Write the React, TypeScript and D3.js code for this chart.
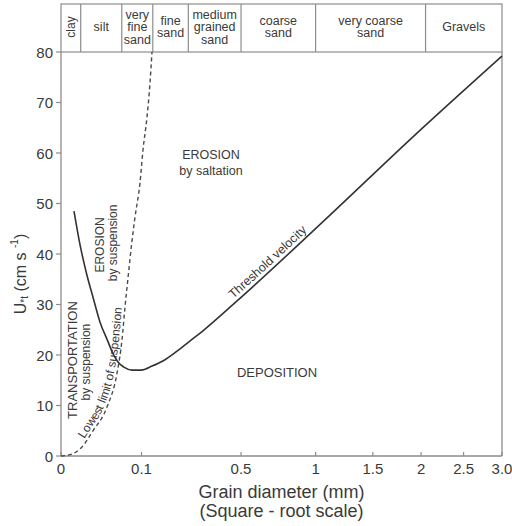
import * as d3 from 'd3';

// grain-size classes shown in the band above the plot (edges in mm)
const classEdges = [0, 0.006, 0.057, 0.13, 0.25, 0.5, 1, 2.05, 3];
const classNames = [
  ['clay'],
  ['silt'],
  ['very', 'fine', 'sand'],
  ['fine', 'sand'],
  ['medium', 'grained', 'sand'],
  ['coarse', 'sand'],
  ['very coarse', 'sand'],
  ['Gravels'],
];

const xTicks = [0, 0.1, 0.5, 1, 1.5, 2, 2.5, 3];
const xTickLabels = ['0', '0.1', '0.5', '1', '1.5', '2', '2.5', '3.0'];
const yTicks = [0, 10, 20, 30, 40, 50, 60, 70, 80];

// threshold velocity curve (grain diameter mm, U*t cm/s)
const thresholdD = [0.0026, 0.0056, 0.0104, 0.016, 0.0235, 0.033, 0.042, 0.05, 0.061, 0.078, 0.099, 0.128, 0.16, 0.204, 0.257, 0.311, 0.478, 1.116, 1.911, 3.0];
const thresholdU = [48.5, 41.8, 35.8, 31.3, 26.5, 23.0, 20.2, 18.6, 17.6, 17.0, 17.0, 17.8, 18.8, 20.6, 22.8, 24.8, 30.7, 47.7, 63.2, 79.2];

// lowest limit of suspension (dashed)
const suspD = [0, 0.0019, 0.0068, 0.0158, 0.0327, 0.0484, 0.0574, 0.0632, 0.0703, 0.0767, 0.0845, 0.0963, 0.1037, 0.1141, 0.1222, 0.1277];
const suspU = [0, 0.4, 1.8, 5.0, 9.7, 16.4, 23.0, 29.5, 36.2, 41.8, 47.3, 54.1, 60.6, 67.1, 73.9, 80.0];

const FONT = '"Liberation Sans", Arial, Helvetica, sans-serif';
const TEXT = '#3a3a3a';
const FRAME = '#8c8c8c';

export default function App() {
  const width = 512;
  const height = 526;
  const left = 61, right = 502, top = 52, bottom = 456, bandTop = 4;

  const x = d3.scaleSqrt().domain([0, 3]).range([left, right]);
  const y = d3.scaleLinear().domain([0, 80]).range([bottom, top]);

  const line = d3
    .line<[number, number]>()
    .x((d) => x(d[0]))
    .y((d) => y(d[1]))
    .curve(d3.curveMonotoneX);

  const threshold = line(d3.zip(thresholdD, thresholdU) as [number, number][]) || '';
  const susp = line(d3.zip(suspD, suspU) as [number, number][]) || '';

  const bandMid = 27;
  const lh = 12.5;

  return (
    <svg
      width={width}
      height={height}
      style={{ position: 'absolute', left: 0, top: 0, background: '#fff' }}
      fontFamily={FONT}
    >
      <defs>
        <path id="threshPath" d={threshold} />
        <path id="suspPath" d={susp} />
      </defs>

      {/* band of grain classes */}
      <rect x={left} y={bandTop} width={right - left} height={top - bandTop} fill="none" stroke={FRAME} strokeWidth={1.2} />
      {classEdges.slice(1, -1).map((e) => (
        <line key={e} x1={x(e)} x2={x(e)} y1={bandTop} y2={top} stroke={FRAME} strokeWidth={1.2} />
      ))}
      {classNames.map((lines, i) => {
        const cx = (x(classEdges[i]) + x(classEdges[i + 1])) / 2;
        if (lines[0] === 'clay') {
          return (
            <text key={i} transform={`translate(${cx},${bandMid}) rotate(-90)`} textAnchor="middle" dominantBaseline="central" fontSize={12} fill={TEXT}>
              clay
            </text>
          );
        }
        return (
          <text key={i} textAnchor="middle" fontSize={12.5} fill={TEXT}>
            {lines.map((t, j) => (
              <tspan key={j} x={cx} y={bandMid + (j - (lines.length - 1) / 2) * lh} dominantBaseline="central">
                {t}
              </tspan>
            ))}
          </text>
        );
      })}

      {/* frame */}
      <line x1={left} x2={left} y1={top} y2={bottom} stroke={FRAME} strokeWidth={1.3} />
      <line x1={right} x2={right} y1={top} y2={bottom} stroke={FRAME} strokeWidth={1.3} />
      <line x1={left} x2={right} y1={bottom} y2={bottom} stroke={FRAME} strokeWidth={1.3} />

      {/* y axis */}
      {yTicks.map((t) => (
        <g key={t}>
          <line x1={left - 5} x2={left} y1={y(t)} y2={y(t)} stroke={FRAME} strokeWidth={1.2} />
          <text x={left - 8} y={y(t)} textAnchor="end" dominantBaseline="central" fontSize={15} fill={TEXT}>
            {t}
          </text>
        </g>
      ))}
      <text transform={`translate(20,${274}) rotate(-90)`} textAnchor="middle" dominantBaseline="central" fontSize={16} fill={TEXT}>
        <tspan>U</tspan>
        <tspan dy={4} fontSize={10}>*t</tspan>
        <tspan dy={-4}> (cm s </tspan>
        <tspan dy={-6} fontSize={10}>-1</tspan>
        <tspan dy={6}>)</tspan>
      </text>

      {/* x axis */}
      {xTicks.map((t, i) => (
        <g key={t}>
          <line x1={x(t)} x2={x(t)} y1={bottom} y2={bottom - 4} stroke={FRAME} strokeWidth={1.2} />
          <text x={x(t)} y={bottom + 18} textAnchor="middle" fontSize={15} fill={TEXT}>
            {xTickLabels[i]}
          </text>
        </g>
      ))}
      <text x={(left + right) / 2} y={498} textAnchor="middle" fontSize={18} fill={TEXT}>
        Grain diameter (mm)
      </text>
      <text x={(left + right) / 2} y={517} textAnchor="middle" fontSize={18} fill={TEXT}>
        (Square - root scale)
      </text>

      {/* curves */}
      <path d={susp} fill="none" stroke="#4a4a4a" strokeWidth={1.4} strokeDasharray="4,3" />
      <path d={threshold} fill="none" stroke="#333" strokeWidth={1.6} />

      {/* curve labels */}
      <text fontSize={12.5} fill={TEXT} dy={-4}>
        <textPath href="#threshPath" startOffset="53%" textAnchor="middle">
          Threshold velocity
        </textPath>
      </text>
      <text fontSize={12} fill={TEXT} dy={-3}>
        <textPath href="#suspPath" startOffset="23.7%" textAnchor="middle">
          Lowest limit of suspension
        </textPath>
      </text>

      {/* region labels */}
      <text x={x(0.347)} y={y(59.6)} textAnchor="middle" dominantBaseline="central" fontSize={12.5} fill={TEXT}>
        EROSION
      </text>
      <text x={x(0.347)} y={y(56.4)} textAnchor="middle" dominantBaseline="central" fontSize={12.5} fill={TEXT}>
        by saltation
      </text>
      <text x={x(0.72)} y={y(16.6)} textAnchor="middle" dominantBaseline="central" fontSize={13} fill={TEXT}>
        DEPOSITION
      </text>
      <text transform={`translate(${x(0.0022)},${y(19.0)}) rotate(-90)`} textAnchor="middle" dominantBaseline="central" fontSize={13} fill={TEXT}>
        TRANSPORTATION
      </text>
      <text transform={`translate(${x(0.0096)},${y(18.6)}) rotate(-90)`} textAnchor="middle" dominantBaseline="central" fontSize={12} fill={TEXT}>
        by suspension
      </text>
      <text transform={`translate(${x(0.0235)},${y(41.8)}) rotate(-90)`} textAnchor="middle" dominantBaseline="central" fontSize={12} fill={TEXT}>
        EROSION
      </text>
      <text transform={`translate(${x(0.0417)},${y(42.2)}) rotate(-90)`} textAnchor="middle" dominantBaseline="central" fontSize={12} fill={TEXT}>
        by suspension
      </text>
    </svg>
  );
}
